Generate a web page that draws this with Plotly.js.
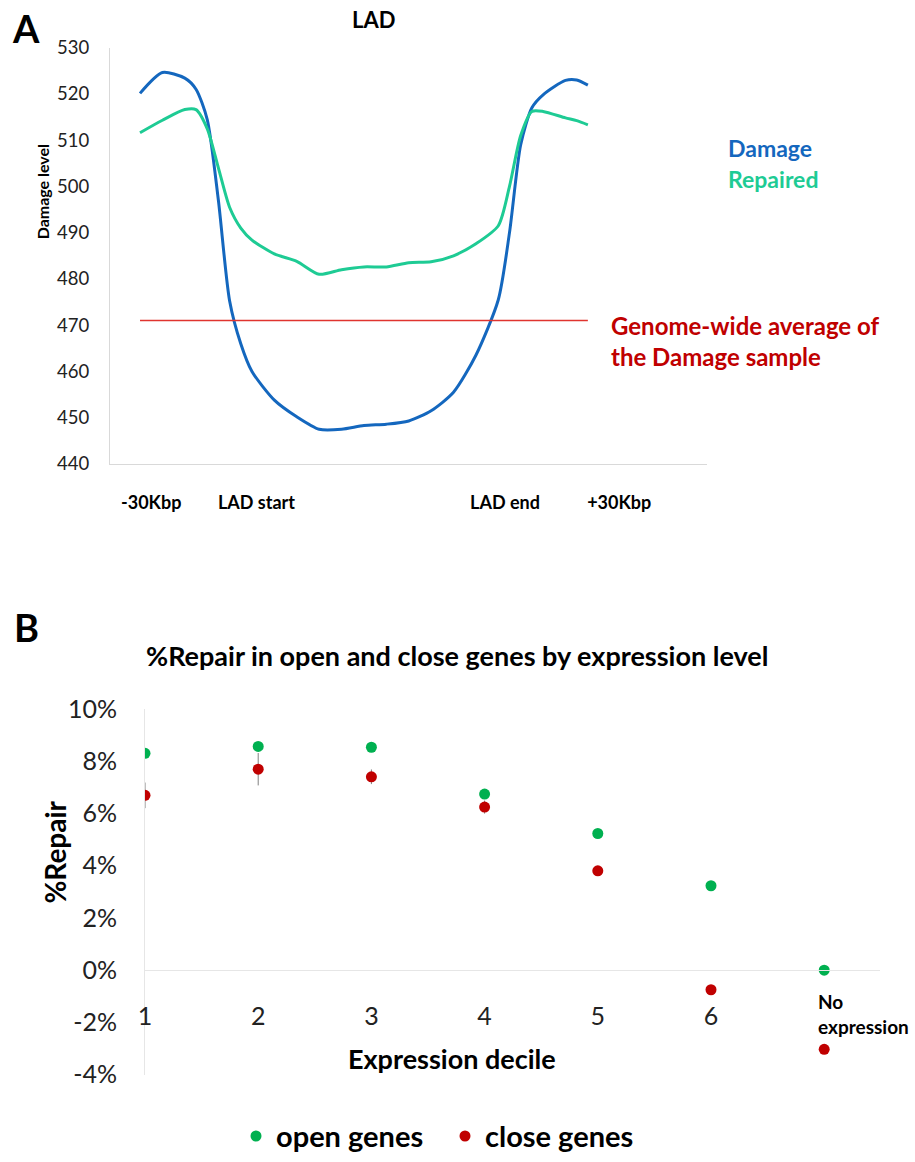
<!DOCTYPE html>
<html>
<head>
<meta charset="utf-8">
<script src="https://cdn.plot.ly/plotly-3.0.1.min.js"></script>
<style>
html,body{margin:0;padding:0;background:#fff;}
#chart{width:915px;height:1162px;}
</style>
</head>
<body>
<div id="chart"></div>
<script>
// ---------- Panel A data ----------
const ladPositions = [0,5,10,12.5,15,17.5,20,22.5,25,30,35,40,45,50,55,60,65,70,75,80,82.5,85,87.5,90,95,97.5,100];
const damageLevel = [520.1,524.6,523.4,521,514.5,497,475.3,466,460,453.8,450.2,447.5,447.5,448.3,448.6,449.3,451.5,455.5,463.5,475.5,490,509,517,519.8,522.9,523,521.9];
const repairedLevel = [511.6,514.3,516.6,516.6,512.5,504,495.5,491,488.4,485.4,483.8,481,482,482.6,482.6,483.5,483.7,485,487.6,491.5,500,511,516.2,516.2,514.8,514.2,513.3];
const genomeAverage = 471;
const ladTickLabels = ['-30Kbp','LAD start','LAD end','+30Kbp'];
const ladTickPositions = [2.5,26,81.5,107];
const damageTicks = [440,450,460,470,480,490,500,510,520,530];

// ---------- Panel B data ----------
const deciles = ['1','2','3','4','5','6','No expression'];
const openGenes = [0.0830,0.0856,0.0853,0.0674,0.0523,0.0323,0.0000];
const closeGenes = [0.0669,0.0769,0.0740,0.0624,0.0380,-0.0075,-0.0303];
const closeErr = [0.0049,0.0062,0.0028,0.0025,0.0010,0.0008,0.0008];
const repairTicks = [-0.04,-0.02,0,0.02,0.04,0.06,0.08,0.10];
const repairTickText = ['-4%','-2%','0%','2%','4%','6%','8%','10%'];

const W = 915, H = 1162;
const px = x => x / W;
const py = y => 1 - y / H;

const FONT = 'Lato, "Open Sans", "DejaVu Sans", sans-serif';
const BLUE = '#1467BE';
const GREEN = '#1ECB94';
const DRED = '#C00000';

const decIdx = deciles.map((d,i) => i + 1);

const traces = [
  {x: ladPositions, y: damageLevel, type:'scatter', mode:'lines', name:'Damage',
   line:{color:BLUE, width:3, shape:'spline', smoothing:0.7}, xaxis:'x', yaxis:'y', showlegend:false, hoverinfo:'skip'},
  {x: ladPositions, y: repairedLevel, type:'scatter', mode:'lines', name:'Repaired',
   line:{color:GREEN, width:3, shape:'spline', smoothing:0.7}, xaxis:'x', yaxis:'y', showlegend:false, hoverinfo:'skip'},
  {x: [ladPositions[0], ladPositions[ladPositions.length-1]], y: [genomeAverage, genomeAverage], type:'scatter', mode:'lines',
   name:'Genome-wide average', line:{color:'#E0342F', width:1.5}, xaxis:'x', yaxis:'y', showlegend:false, hoverinfo:'skip'},
  {x: decIdx, y: openGenes, type:'scatter', mode:'markers', name:'<b>open genes</b>',
   marker:{color:'#00B050', size:11}, xaxis:'x2', yaxis:'y2'},
  {x: decIdx, y: closeGenes, type:'scatter', mode:'markers', name:'<b>close genes</b>',
   marker:{color:DRED, size:11}, xaxis:'x2', yaxis:'y2',
   error_y:{type:'data', array: closeErr, visible:true, color:'#808080', thickness:1, width:0}}
];

function note(text, x, y, size, color, extra) {
  return Object.assign({text:text, x:px(x), y:py(y), xref:'paper', yref:'paper', xanchor:'center', yanchor:'middle',
    showarrow:false, font:{family:FONT, size:size, color:color}}, extra || {});
}

const annotations = [
  note('<b>A</b>', 26, 28, 38, '#000'),
  note('<b>B</b>', 26, 632, 38, '#000'),
  note('<b>LAD</b>', 373, 20, 22, '#000'),
  note('<b>Damage level</b>', 42, 194, 16, '#000', {textangle:-90}),
  note('<b>Damage</b>', 726, 149, 23, BLUE, {xanchor:'left'}),
  note('<b>Repaired</b>', 726, 181, 23, GREEN, {xanchor:'left'}),
  note('<b>Genome-wide average of<br>the Damage sample</b>', 609, 344, 24, DRED, {xanchor:'left', align:'left'}),
  note('<b>%Repair in open and close genes by expression level</b>', 457, 661, 27, '#000'),
  note('<b>%Repair</b>', 55, 860, 28, '#000', {textangle:-90}),
  note('<b>Expression decile</b>', 452, 1068, 27, '#000'),
  {text:'<b>No<br>expression</b>', x:decIdx[6], y:py(1023), xref:'x2', yref:'paper', xanchor:'left', yanchor:'middle', xshift:-8,
   align:'left', showarrow:false, font:{family:FONT, size:19, color:'#000'}}
];

const layout = {
  width: W, height: H,
  margin:{l:0, r:0, t:0, b:0},
  paper_bgcolor:'#fff', plot_bgcolor:'#fff',
  font:{family:FONT, color:'#000'},
  showlegend:true,
  legend:{orientation:'h', x:px(236), xanchor:'left', y:py(1146), yanchor:'middle',
          font:{family:FONT, size:29, color:'#000'}, entrywidth:164, entrywidthmode:'pixels'},
  xaxis:{domain:[px(110), px(707)], range:[-6.7, 126.6], anchor:'y',
         showgrid:false, zeroline:false, showline:true, linecolor:'#D9D9D9', linewidth:1,
         tickmode:'array', tickvals: ladTickPositions, ticktext: ladTickLabels.map(t=>'<b>'+t+'</b>'),
         ticks:'outside', ticklen:22, tickcolor:'rgba(0,0,0,0)', tickfont:{family:FONT, size:18, color:'#000'}},
  yaxis:{domain:[py(468), py(48)], range:[440, 530], anchor:'x',
         showgrid:false, zeroline:false, showline:true, linecolor:'#D9D9D9', linewidth:1,
         tickmode:'array', tickvals: damageTicks, ticktext: damageTicks.map(String),
         ticks:'outside', ticklen:16, tickcolor:'rgba(0,0,0,0)', tickfont:{family:FONT, size:18.5, color:'#222'}},
  xaxis2:{domain:[px(145), px(880)], range:[1, 1 + (880-145)/113.2], anchor:'free', position: py(978),
          showgrid:false, zeroline:false, showline:true, linecolor:'#E6E6E6', linewidth:1,
          tickmode:'array', tickvals: decIdx.slice(0,6), ticktext: deciles.slice(0,6),
          ticks:'outside', ticklen:24, tickcolor:'rgba(0,0,0,0)', tickfont:{family:FONT, size:25, color:'#222'}},
  yaxis2:{domain:[py(1084), py(715)], range:[-0.04, 0.10], anchor:'x2',
          showgrid:false, zeroline:false, showline:true, linecolor:'#E6E6E6', linewidth:1,
          tickmode:'array', tickvals: repairTicks, ticktext: repairTickText,
          ticks:'outside', ticklen:22, tickcolor:'rgba(0,0,0,0)', tickfont:{family:FONT, size:25, color:'#222'}},
  annotations: annotations
};

Plotly.newPlot('chart', traces, layout, {displayModeBar:false, staticPlot:true});
</script>
</body>
</html>
